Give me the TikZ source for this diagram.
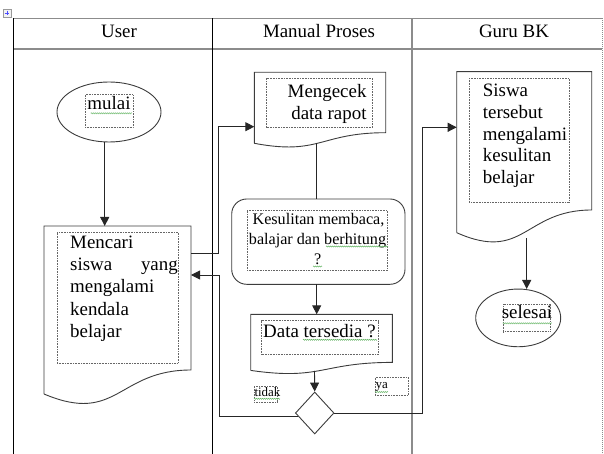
\documentclass[tikz,border=0pt]{standalone}
\usepackage{fontspec}
\setmainfont{Liberation Serif}
\usetikzlibrary{arrows.meta,shapes.geometric,decorations.pathmorphing,calc}
\definecolor{shpcol}{RGB}{60,60,60}
\definecolor{tblcol}{RGB}{140,140,140}
\definecolor{sqcol}{RGB}{110,185,110}
\begin{document}
\begin{tikzpicture}[x=1bp,y=-1bp,
  shp/.style={draw=shpcol, line width=0.9bp},
  ln/.style={draw=black!85, line width=0.9bp},
  arr/.style={draw=black!85, line width=0.9bp, -{Triangle[length=9bp,width=9bp]}},
  tbl/.style={draw=tblcol, line width=1.6bp},
  dbox/.style={draw=black!60, densely dotted, line width=0.6bp, inner sep=0pt},
  big/.style={font=\fontsize{19}{22}\selectfont, inner sep=0pt},
  mid/.style={font=\fontsize{16.2}{20}\selectfont, inner sep=0pt},
  small/.style={font=\fontsize{13}{15}\selectfont, inner sep=0pt},
  squig/.style={draw=sqcol, line width=0.5bp, decorate, decoration={zigzag,amplitude=0.6bp,segment length=2bp}}
]
\useasboundingbox (0,0) rectangle (604,454);

% table move icon
\node[draw=black!40, fill=black!5, minimum size=8bp, inner sep=0pt] (icon) at (7,13) {};
\draw[blue!70, line width=0.6bp] (4.6,13) -- (9.4,13) (7,10.6) -- (7,15.4);

% table
\draw[tbl] (13,18.5) -- (602,18.5);
\draw[tbl] (13,49) -- (602,49);
\draw[black, line width=1bp] (13,18.5) -- (13,454);
\draw[black, line width=1bp] (212,18.5) -- (212,454);
\draw[tbl] (412,18.5) -- (412,454);
\draw[tblcol, densely dotted, line width=1bp] (602,18.5) -- (602,454);

\node[big] (hUser) at (119,31) {User};
\node[big] (hMan) at (319,31) {Manual Proses};
\node[big] (hGuru) at (514,31) {Guru BK};

% ---- mulai
\node[shp, ellipse, minimum width=104bp, minimum height=60bp, inner sep=0pt] (mulai) at (109,112) {};
\node[dbox, minimum width=48bp, minimum height=33bp] (bmulai) at (109,111) {};
\node[big, anchor=base] (tmulai) at (109,109.5) {mulai};
\draw[squig] (90.7,113.3) -- (131.7,113.3);

% ---- Mencari (document shape)
\draw[shp] (44,394) -- (44,226) -- (191,226) -- (191,370) .. controls (117.5,370) and (117.5,425) .. (44,394);
\node[minimum width=147bp, minimum height=150bp, inner sep=0pt] (mencari) at (117.5,301) {};
\node[dbox, minimum width=121bp, minimum height=131bp] (bmencari) at (117.5,297.5) {};
\node[big, anchor=base west] (m1) at (70,249) {Mencari};
\node[big, anchor=base west] (m2a) at (70,271) {siswa};
\node[big, anchor=base east] (m2b) at (178,271) {yang};
\node[big, anchor=base west] (m3) at (70,293) {mengalami};
\node[big, anchor=base west] (m4) at (70,315) {kendala};
\node[big, anchor=base west] (m5) at (70,337) {belajar};
\coordinate (mencariTop) at (104.7,226);
\coordinate (mencariOut) at (191,253.3);
\coordinate (mencariIn) at (191,275);

% ---- Mengecek (document shape)
\draw[shp] (254.3,143.3) -- (254.3,72.3) -- (385.7,72.3) -- (385.7,132.7) .. controls (320,132.7) and (320,155.7) .. (254.3,143.3);
\node[minimum width=131.4bp, minimum height=75bp, inner sep=0pt] (mengecek) at (320,110) {};
\node[dbox, minimum width=105.6bp, minimum height=49.4bp] (bmengecek) at (319.5,103) {};
\node[big, anchor=base east] (g1) at (366.7,98) {Mengecek};
\node[big, anchor=base east] (g2) at (366.7,119.5) {data rapot};
\coordinate (mengecekIn) at (254.3,126.7);
\coordinate (mengecekOut) at (316.7,143.5);

% ---- Kesulitan (rounded box)
\node[shp, rounded corners=15bp, minimum width=173.3bp, minimum height=85.3bp, inner sep=0pt] (kes) at (318.35,241.65) {};
\node[dbox, minimum width=140bp, minimum height=60.7bp] (bkes) at (317,240.35) {};
\node[mid, anchor=base] (k1) at (318.5,224.5) {Kesulitan membaca,};
\node[mid, anchor=base] (k2) at (317.5,245) {balajar dan berhitung};
\node[mid, anchor=base] (k3) at (317.7,265) {?};
\draw[squig] (326,246.5) -- (388,246.5);
\draw[squig] (313,266.5) -- (322,266.5);
\coordinate (kesTop) at (316.7,199);
\coordinate (kesBot) at (316.7,284.3);

% ---- Data tersedia (document shape)
\draw[shp] (250.7,370.4) -- (250.7,314.3) -- (392.3,314.3) -- (392.3,362.4) .. controls (321.5,362.4) and (321.5,380.7) .. (250.7,370.4);
\node[minimum width=141.6bp, minimum height=58bp, inner sep=0pt] (data) at (321.5,343.3) {};
\node[dbox, minimum width=116.6bp, minimum height=33.6bp] (bdata) at (320,337.5) {};
\node[big, anchor=base west] (d1) at (263,337.5) {Data tersedia ?};
\draw[squig] (303,339.8) -- (377,339.8);
\coordinate (dataTop) at (316.7,314.3);
\coordinate (dataOut) at (314.5,370.8);

% ---- decision diamond
\node[shp, diamond, minimum width=38.6bp, minimum height=42bp, inner sep=0pt] (dec) at (314.7,413) {};
\node[dbox, minimum width=23bp, minimum height=16.7bp] (btidak) at (265.8,394.35) {};
\node[small, anchor=base west] (tidak) at (254.3,396) {tidak};
\draw[squig] (254,398.8) -- (280,398.8);
\node[dbox, minimum width=33.3bp, minimum height=17.7bp] (bya) at (391.65,386.15) {};
\node[small, anchor=base west] (ya) at (375.5,388.5) {ya};
\draw[squig] (375,392) -- (388,392);

% ---- Siswa (document shape)
\draw[shp] (456.7,232.7) -- (456.7,71.7) -- (591.7,71.7) -- (591.7,210) .. controls (524.2,210) and (524.2,262.6) .. (456.7,232.7);
\node[minimum width=135bp, minimum height=172bp, inner sep=0pt] (siswa) at (524.2,157.7) {};
\node[dbox, minimum width=100bp, minimum height=124.4bp] (bsiswa) at (519.3,140.5) {};
\node[big, anchor=base west] (s1) at (482.7,97) {Siswa};
\node[big, anchor=base west] (s2) at (482.7,118.6) {tersebut};
\node[big, anchor=base west] (s3) at (482.7,140.2) {mengalami};
\node[big, anchor=base west] (s4) at (482.7,161.8) {kesulitan};
\node[big, anchor=base west] (s5) at (482.7,183.4) {belajar};
\coordinate (siswaIn) at (456.7,127.3);
\coordinate (siswaOut) at (526.7,238.3);

% ---- selesai
\node[shp, ellipse, minimum width=85bp, minimum height=57.7bp, inner sep=0pt] (selesai) at (518.2,317.9) {};
\node[dbox, minimum width=47.4bp, minimum height=27.7bp] (bselesai) at (527,317.85) {};
\node[big, anchor=base] (tselesai) at (527,318.5) {selesai};
\draw[squig] (502.7,323.3) -- (551.7,323.3);
\coordinate (selesaiTop) at (526.7,289);

% ---- connectors
\coordinate (xA) at (218.3,0);
\coordinate (xB) at (219.8,0);
\coordinate (xC) at (422.7,0);
\draw[arr] (mulai.south -| mencariTop) -- (mencariTop);
\draw[arr] (mencariOut) -- (mencariOut -| xA) |- (mengecekIn);
\draw[ln] (mengecekOut) -- (kesTop);
\draw[arr] (kesBot) -- (dataTop);
\draw[arr] (dataOut) -- (dec.north);
\draw[arr] (dec.190) -- (dec.190 -| xB) |- (mencariIn);
\draw[arr] (dec.east) -- (dec.east -| xC) |- (siswaIn);
\draw[arr] (siswaOut) -- (selesaiTop);
\end{tikzpicture}
\end{document}
